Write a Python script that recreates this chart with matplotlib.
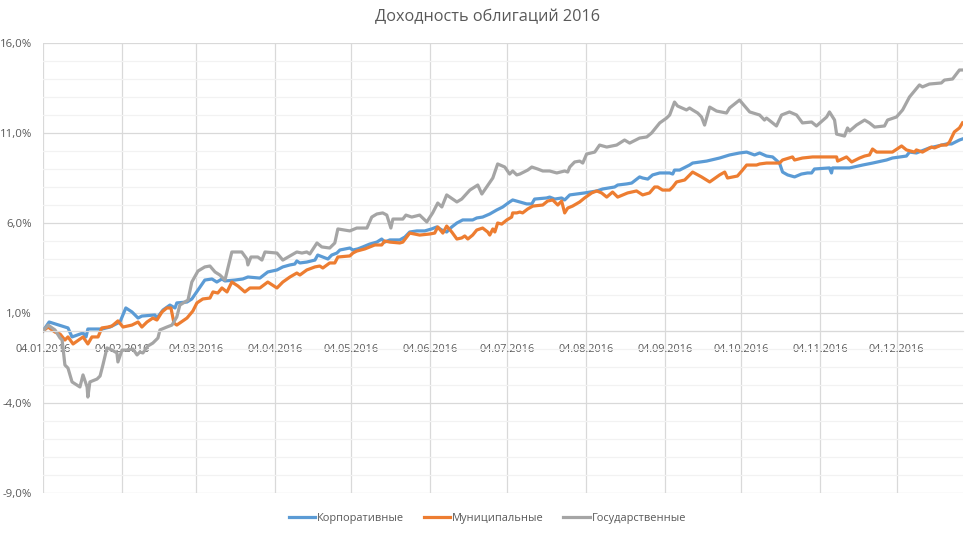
import matplotlib
matplotlib.use("Agg")
import matplotlib.pyplot as plt
import matplotlib.dates as mdates
from matplotlib.ticker import MultipleLocator, FuncFormatter
import pandas as pd

plt.rcParams['font.family'] = ['Open Sans', 'DejaVu Sans']

start_date = "2016-01-04"

title = "Доходность облигаций 2016"
series_names = ["Корпоративные", "Муниципальные", "Государственные"]

# days since 04.01.2016 and yields (%)
corp_days = [0, 2.4, 9.8, 11.4, 15.7, 16.9, 17.6, 23.1, 26.3, 30.2, 32.5, 34.9, 37.3, 38.8, 43.9, 44.7,
             47.1, 49.8, 51.8, 52.5, 56.5, 58.4, 61.6, 63.5, 66.3, 68.2, 70.2, 71.4, 75.3, 78.4, 80.4,
             85.1, 88.2, 91.8, 94.1, 96.9, 98.8, 99.6, 100.8, 103.5, 106.7, 107.8, 109.8, 111.8, 113.3,
             115.3, 116.5, 120.4, 121.6, 123.5, 125.5, 128.2, 131.0, 132.9, 134.1, 136.1, 140.0, 142.0,
             143.9, 146.7, 149.8, 152.5, 154.5, 156.5, 158.4, 160.4, 162.4, 164.7, 168.6, 170.2, 172.5,
             175.3, 178.0, 180.4, 183.1, 184.3, 187.1, 189.8, 191.8, 192.9, 197.6, 198.8, 200.8, 203.5,
             204.7, 206.7, 209.4, 212.5, 217.3, 219.6, 224.3, 225.5, 229.0, 231.0, 234.1, 235.3, 237.3,
             239.2, 242.0, 245.9, 247.1, 247.8, 249.8, 253.7, 254.9, 260.4, 265.5, 269.4, 273.3, 276.1,
             279.2, 281.2, 283.9, 286.3, 289.0, 290.2, 292.2, 294.9, 297.6, 300.0, 301.6, 302.7, 308.6,
             309.4, 309.8, 316.5, 321.6, 325.5, 331.0, 333.3, 338.8, 340.0, 342.7, 347.8, 354.5, 356.5,
             359.6, 360.8]
corp_vals = [0.0, 0.50, 0.17, -0.33, -0.11, -0.33, 0.11, 0.11, 0.22, 0.50, 1.28, 1.06, 0.72, 0.83, 0.89, 0.72,
             1.17, 1.44, 1.28, 1.56, 1.61, 1.78, 2.44, 2.83, 2.89, 2.72, 2.89, 2.78, 2.83, 2.89, 3.00,
             2.94, 3.28, 3.39, 3.56, 3.67, 3.72, 3.89, 3.78, 3.83, 3.94, 4.22, 4.11, 4.00, 4.22,
             4.33, 4.50, 4.61, 4.50, 4.56, 4.67, 4.83, 4.94, 5.11, 4.94, 5.06, 5.06, 5.22,
             5.50, 5.56, 5.56, 5.67, 5.78, 5.61, 5.50, 5.78, 6.00, 6.17, 6.17, 6.28, 6.33,
             6.50, 6.72, 6.89, 7.17, 7.28, 7.17, 7.06, 7.06, 7.33, 7.39, 7.44, 7.33, 7.39,
             7.28, 7.56, 7.61, 7.67, 7.78, 7.89, 8.00, 8.11, 8.17, 8.22, 8.56, 8.50, 8.44,
             8.67, 8.78, 8.78, 8.72, 8.94, 8.94, 9.22, 9.33, 9.44, 9.61, 9.78, 9.89, 9.94,
             9.78, 9.89, 9.72, 9.67, 9.33, 8.83, 8.67, 8.56, 8.72, 8.78, 8.78, 9.00, 9.06,
             8.78, 9.06, 9.06, 9.22, 9.33, 9.50, 9.61, 9.72, 9.94, 9.89, 10.17, 10.39, 10.39,
             10.61, 10.67]

muni_days = [0, 2.0, 4.7, 6.7, 8.6, 9.8, 11.8, 15.7, 17.6, 19.2, 21.6, 23.1, 25.5, 27.1, 29.4, 31.4,
             34.9, 37.3, 38.8, 40.8, 43.1, 44.7, 46.7, 48.6, 50.2, 51.4, 52.5, 56.5, 58.8, 60.4, 62.7,
             65.5, 66.7, 68.6, 70.2, 72.2, 74.1, 76.5, 79.2, 81.2, 85.1, 88.2, 91.8, 94.1, 96.9, 99.6,
             100.8, 103.5, 106.7, 108.6, 109.8, 112.5, 114.5, 115.7, 120.4, 121.6, 123.1, 126.3, 128.2,
             130.2, 132.9, 134.1, 136.1, 140.0, 141.2, 143.9, 147.8, 151.8, 153.7, 154.9, 156.9, 158.4,
             160.4, 162.4, 164.3, 165.5, 166.7, 168.6, 170.2, 172.5, 174.5, 175.3, 176.5, 177.3, 178.4,
             180.0, 182.0, 183.9, 184.3, 185.9, 187.1, 188.2, 190.2, 192.2, 196.1, 198.0, 200.0, 202.0,
             203.5, 204.7, 205.9, 207.8, 210.6, 212.5, 215.3, 217.3, 219.2, 221.2, 223.5, 225.5, 229.4,
             232.9, 235.3, 238.0, 240.0, 241.2, 243.1, 245.9, 247.1, 248.6, 251.8, 254.9, 258.4, 261.6,
             265.5, 267.5, 268.6, 272.5, 274.5, 276.1, 280.0, 281.2, 283.9, 289.0, 290.2, 294.1, 294.9,
             298.0, 302.0, 308.6, 311.4, 311.8, 315.3, 317.3, 320.4, 322.4, 324.3, 325.5, 327.1, 331.0,
             333.3, 336.9, 338.8, 342.0, 342.7, 345.1, 348.6, 349.8, 352.5, 354.5, 355.7, 357.6, 359.6,
             360.8]
muni_vals = [0.0, 0.22, -0.06, -0.17, -0.50, -0.33, -0.72, -0.33, -0.72, -0.33, -0.33, 0.17, 0.22, 0.28, 0.56, 0.22,
             0.33, 0.50, 0.22, 0.50, 0.72, 0.61, 1.06, 1.28, 1.28, 0.44, 0.33, 0.72, 1.11, 1.56, 1.78,
             1.83, 2.17, 2.11, 2.39, 2.17, 2.72, 2.50, 2.17, 2.39, 2.39, 2.72, 2.39, 2.72, 3.00, 3.22,
             3.11, 3.39, 3.56, 3.61, 3.50, 3.78, 3.78, 4.11, 4.17, 4.33, 4.44, 4.56, 4.67,
             4.78, 4.78, 5.00, 4.94, 4.89, 4.94, 5.44, 5.33, 5.39, 5.44, 5.78, 5.44, 5.83,
             5.50, 5.11, 5.17, 5.28, 5.11, 5.33, 5.61, 5.72, 5.50, 5.33, 5.67, 5.50, 6.00,
             5.94, 6.17, 6.33, 6.56, 6.56, 6.61, 6.56, 6.78, 6.94, 7.00, 7.22, 7.28, 7.00,
             7.22, 6.56, 6.83, 6.94, 7.17, 7.39, 7.67, 7.78, 7.67, 7.44, 7.72, 7.44, 7.67,
             7.78, 7.56, 7.67, 8.00, 8.00, 7.83, 7.83, 8.00, 8.28, 8.39, 8.83, 8.56, 8.28,
             8.67, 8.83, 8.50, 8.61, 8.94, 9.22, 9.22, 9.28, 9.33, 9.33, 9.50, 9.67, 9.50,
             9.61, 9.67, 9.67, 9.67, 9.44, 9.67, 9.39, 9.61, 9.72, 9.78, 10.11, 9.94, 9.94,
             9.94, 10.28, 10.06, 9.94, 10.06, 9.94, 10.22, 10.17, 10.33, 10.33, 10.50, 11.06, 11.28,
             11.56]

gov_days = [0, 2.0, 4.7, 6.7, 7.5, 8.6, 9.8, 11.4, 13.3, 14.5, 15.7, 17.3, 17.6, 18.4, 21.2, 22.4,
            23.5, 25.1, 27.1, 29.0, 29.4, 31.0, 32.9, 35.3, 36.9, 38.0, 39.2, 41.2, 43.1, 45.1, 45.9,
            48.6, 50.6, 52.5, 53.7, 56.9, 58.4, 60.8, 63.5, 65.5, 67.5, 69.4, 71.4, 74.1, 78.0, 80.0,
            80.4, 81.6, 84.3, 85.9, 87.1, 91.8, 94.1, 99.6, 101.6, 103.5, 104.7, 107.5, 109.4, 112.5,
            114.5, 115.7, 120.4, 123.1, 127.1, 129.0, 131.0, 133.3, 134.9, 136.5, 137.3, 141.2, 142.4,
            144.7, 147.8, 150.6, 152.9, 154.9, 156.5, 158.4, 162.4, 164.3, 167.5, 170.6, 172.2, 176.5,
            178.4, 181.2, 183.1, 184.3, 185.9, 187.1, 190.2, 191.8, 194.1, 196.1, 198.8, 201.6, 204.7,
            205.9, 206.7, 208.6, 210.6, 211.8, 213.3, 216.5, 218.4, 221.2, 225.1, 228.2, 230.2, 234.1,
            236.9, 238.8, 242.0, 244.7, 245.9, 247.8, 249.0, 252.5, 253.7, 254.9, 256.9, 258.4, 259.6,
            261.6, 264.3, 268.2, 269.4, 273.3, 277.3, 281.2, 283.1, 283.9, 287.8, 289.8, 292.9, 295.7,
            298.0, 301.6, 303.5, 307.5, 308.6, 310.6, 311.4, 314.5, 315.7, 316.5, 319.2, 322.4, 324.3,
            326.3, 330.2, 331.4, 334.9, 337.3, 340.0, 343.9, 345.1, 347.8, 352.5, 353.7, 356.9, 359.6,
            360.8]
gov_vals = [0.0, 0.33, 0.06, -0.39, -0.50, -1.89, -2.06, -2.83, -3.00, -3.11, -2.44, -3.11, -3.67, -2.83, -2.67, -2.50,
            -1.89, -0.94, -1.06, -1.22, -1.72, -1.06, -1.06, -1.00, -1.33, -1.17, -1.22, -0.83, -0.67, -0.39, 0.06,
            0.22, 0.33, 0.78, 1.44, 1.72, 2.72, 3.33, 3.56, 3.61, 3.28, 3.11, 2.83, 4.39, 4.39, 4.00,
            3.67, 4.11, 4.11, 3.94, 4.39, 4.33, 3.94, 4.39, 4.33, 4.39, 4.28, 4.89, 4.67, 4.61,
            4.89, 5.67, 5.56, 5.72, 5.72, 6.33, 6.50, 6.56, 6.44, 5.72, 6.22, 6.22, 6.44,
            6.33, 6.44, 6.06, 6.56, 7.11, 6.89, 7.56, 7.17, 7.33, 7.83, 8.11, 7.61, 8.50,
            9.28, 9.11, 8.72, 8.89, 8.67, 8.72, 8.94, 9.11, 9.00, 8.89, 8.89, 8.78, 8.89,
            8.83, 9.11, 9.39, 9.44, 9.33, 9.83, 9.94, 10.33, 10.22, 10.33, 10.61, 10.44, 10.72,
            10.78, 11.00, 11.56, 11.83, 12.00, 12.72, 12.50, 12.28, 12.39, 12.28, 12.11, 11.89, 11.44,
            12.44, 12.22, 12.11, 12.39, 12.83, 12.17, 12.00, 11.72, 11.83, 11.39, 12.00, 12.17, 12.00,
            11.56, 11.61, 11.39, 11.89, 12.17, 11.72, 10.94, 10.83, 11.28, 11.11, 11.44, 11.72, 11.56,
            11.33, 11.39, 11.72, 11.89, 12.28, 13.00, 13.67, 13.56, 13.72, 13.78, 13.94, 14.00, 14.50,
            14.50]

colors = ["#5B9BD5", "#ED7D31", "#A5A5A5"]

y_min, y_max = -9.0, 16.0

t0 = pd.Timestamp(start_date)
def to_dates(days):
    return [t0 + pd.Timedelta(days=d) for d in days]

fig = plt.figure(figsize=(9.75, 5.35), dpi=100)
ax = fig.add_axes([43 / 975, 1 - 493 / 535, (963 - 43) / 975, (493 - 43) / 535])

for days, vals, name, c in zip([corp_days, muni_days, gov_days],
                               [corp_vals, muni_vals, gov_vals],
                               series_names, colors):
    ax.plot(to_dates(days), vals, color=c, lw=2.3, label=name, solid_joinstyle='round')

ax.set_ylim(y_min, y_max)
ax.set_xlim(t0, t0 + pd.Timedelta(days=361))
ax.yaxis.set_major_locator(MultipleLocator(5.0, offset=1.0))
ax.yaxis.set_minor_locator(MultipleLocator(1.0))
ax.yaxis.set_major_formatter(FuncFormatter(lambda v, p: f"{v:.1f}%".replace('.', ',')))

month_ticks = pd.date_range("2016-01-04", "2016-12-04", freq=pd.DateOffset(months=1))
ax.set_xticks(month_ticks)
ax.xaxis.set_major_formatter(mdates.DateFormatter("%d.%m.%Y"))

ax.grid(True, which='major', axis='both', color='#D9D9D9', lw=0.9)
ax.grid(True, which='minor', axis='y', color='#F2F2F2', lw=0.9)
ax.set_axisbelow(True)

for s in ['top', 'right', 'left']:
    ax.spines[s].set_visible(False)
ax.spines['bottom'].set_position(('data', 0))
ax.spines['bottom'].set_color('#D9D9D9')
ax.spines['bottom'].set_linewidth(0.9)

ax.tick_params(axis='both', which='both', length=0, colors='#595959')
ax.tick_params(axis='x', pad=9, labelsize=7.8)
ax.tick_params(axis='y', pad=8, labelsize=8.2)

fig.suptitle(title, x=0.5, y=1 - 17 / 535, va='center', fontsize=11.7, color='#595959')

leg = fig.legend(loc='center', bbox_to_anchor=(0.5, 1 - 518 / 535), ncol=3, frameon=False,
                 fontsize=7.9, handlelength=2.4, handletextpad=0.15, columnspacing=1.8)
for t in leg.get_texts():
    t.set_color('#595959')

fig.savefig("out.png", dpi=100)
